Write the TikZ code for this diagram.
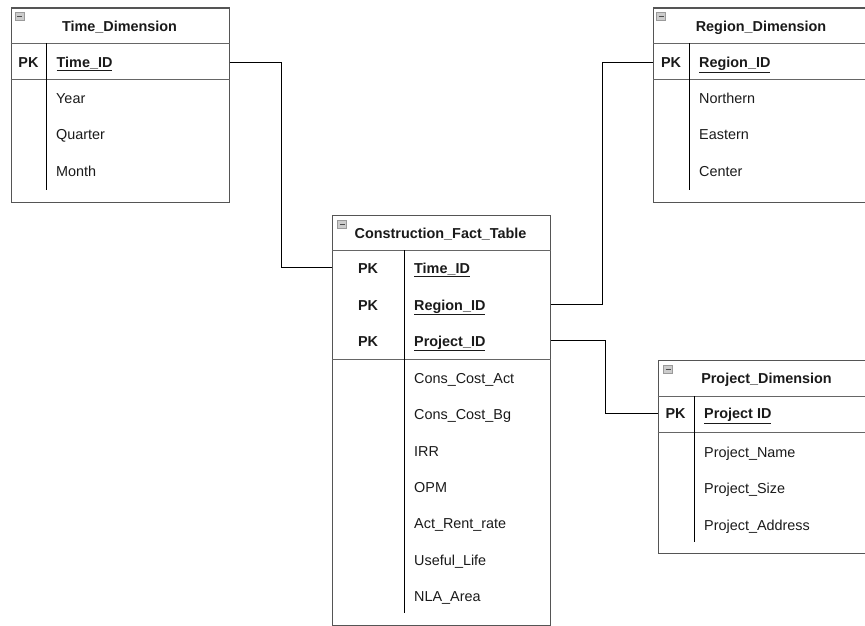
\documentclass[tikz,border=0pt]{standalone}
\usepackage{fontspec}
\setmainfont{Liberation Sans}
\usepackage{xcolor}
\definecolor{frameGrey}{HTML}{555555}
\definecolor{ruleGrey}{HTML}{666666}
\definecolor{iconFill}{HTML}{CCCCCC}
\definecolor{iconDraw}{HTML}{9A9A9A}
\definecolor{textDark}{HTML}{1A1A1A}
\usepackage{tikz}
\usetikzlibrary{calc}
\newcommand{\erFont}{\fontsize{14.4}{17}\selectfont}
\tikzset{%
  tableFrame/.style={%
    rectangle,
    draw=frameGrey,
    line width=1.1pt,
    inner sep=0pt,
    anchor=north west
  },
  textRow/.style={%
    text=textDark,
    font=\erFont,
    inner sep=0pt,
    text height=12pt,
    text depth=1.7pt
  },
  tableTitle/.style={textRow, font=\erFont\bfseries, anchor=base},
  pkLabel/.style={textRow, font=\erFont\bfseries, anchor=base},
  keyField/.style={textRow, font=\erFont\bfseries, anchor=base west},
  fieldName/.style={textRow, anchor=base west},
  headRule/.style={draw=ruleGrey, line width=1pt},
  colRule/.style={draw=black, line width=1pt},
  linkLine/.style={draw=black, line width=0.8pt},
  minusIcon/.style={%
    rectangle,
    draw=iconDraw,
    fill=iconFill,
    line width=0.6pt,
    minimum width=9pt,
    minimum height=8pt,
    inner sep=0pt,
    path picture={\draw[black!70, line width=0.9pt]
      ([xshift=-2.5pt]path picture bounding box.center) --
      ([xshift=2.5pt]path picture bounding box.center);}
  }
}

\begin{document}
\begin{tikzpicture}[x=1pt, y=-1pt]
  \useasboundingbox (0,0) rectangle (865,626);
  \clip (0,0) rectangle (865,626);

  % Time dimension
  \node[tableFrame, minimum width=218pt, minimum height=194pt] (timeTable) at (10.5,7.5) {};
  \node[minusIcon] (timeIcon) at ($(timeTable.north west)+(9,8.5)$) {};
  \draw[headRule] ($(timeTable.north west)+(0,36)$) -- ($(timeTable.north east)+(0,36)$);
  \draw[headRule] ($(timeTable.north west)+(0,72.5)$) -- ($(timeTable.north east)+(0,72.5)$);
  \draw[colRule] ($(timeTable.north west)+(36,36)$) -- ++(0,146.5);
  \node[tableTitle] (timeTitle) at (119.5,31.5) {Time\_Dimension};
  \node[pkLabel] (timePK) at (28.5,67.5) {PK};
  \node[keyField] (timeKey) at (56.5,67.5) {\underline{Time\_ID}};
  \node[fieldName] (timeYear) at (56,103) {Year};
  \node[fieldName] (timeQuarter) at (56,139.5) {Quarter};
  \node[fieldName] (timeMonth) at (56,176) {Month};

  % Region dimension
  \node[tableFrame, minimum width=220pt, minimum height=194pt] (regionTable) at (653,7.5) {};
  \node[minusIcon] (regionIcon) at ($(regionTable.north west)+(8,8.5)$) {};
  \draw[headRule] ($(regionTable.north west)+(0,36)$) -- ($(regionTable.north east)+(0,36)$);
  \draw[headRule] ($(regionTable.north west)+(0,72.5)$) -- ($(regionTable.north east)+(0,72.5)$);
  \draw[colRule] ($(regionTable.north west)+(36.5,36)$) -- ++(0,146.5);
  \node[tableTitle] (regionTitle) at (761,31.5) {Region\_Dimension};
  \node[pkLabel] (regionPK) at (671,67.5) {PK};
  \node[keyField] (regionKey) at (699,67.5) {\underline{Region\_ID}};
  \node[fieldName] (regionNorth) at (699,103) {Northern};
  \node[fieldName] (regionEast) at (699,139.5) {Eastern};
  \node[fieldName] (regionCenter) at (699,176) {Center};

  % Construction fact table
  \node[tableFrame, minimum width=218pt, minimum height=410pt] (factTable) at (332,214.5) {};
  \node[minusIcon] (factIcon) at ($(factTable.north west)+(10,9.5)$) {};
  \draw[headRule] ($(factTable.north west)+(0,35.5)$) -- ($(factTable.north east)+(0,35.5)$);
  \draw[headRule] ($(factTable.north west)+(0,145)$) -- ($(factTable.north east)+(0,145)$);
  \draw[colRule] ($(factTable.north west)+(72,35.5)$) -- ++(0,363);
  \node[tableTitle] (factTitle) at (440.5,238) {Construction\_Fact\_Table};
  \node[pkLabel] (factTimePK) at (368,273) {PK};
  \node[pkLabel] (factRegionPK) at (368,310) {PK};
  \node[pkLabel] (factProjectPK) at (368,346) {PK};
  \node[keyField] (factTimeKey) at (414,273) {\underline{Time\_ID}};
  \node[keyField] (factRegionKey) at (414,310) {\underline{Region\_ID}};
  \node[keyField] (factProjectKey) at (414,346) {\underline{Project\_ID}};
  \node[fieldName] (factCostAct) at (414,383) {Cons\_Cost\_Act};
  \node[fieldName] (factCostBg) at (414,419.5) {Cons\_Cost\_Bg};
  \node[fieldName] (factIRR) at (414,456) {IRR};
  \node[fieldName] (factOPM) at (414,492) {OPM};
  \node[fieldName] (factRent) at (414,528.5) {Act\_Rent\_rate};
  \node[fieldName] (factLife) at (414,565) {Useful\_Life};
  \node[fieldName] (factArea) at (414,601.5) {NLA\_Area};

  % Project dimension
  \node[tableFrame, minimum width=220pt, minimum height=193pt] (projectTable) at (657.5,359.5) {};
  \node[minusIcon] (projectIcon) at ($(projectTable.north west)+(10.5,10)$) {};
  \draw[headRule] ($(projectTable.north west)+(0,36.5)$) -- ($(projectTable.north east)+(0,36.5)$);
  \draw[headRule] ($(projectTable.north west)+(0,72.5)$) -- ($(projectTable.north east)+(0,72.5)$);
  \draw[colRule] ($(projectTable.north west)+(36.5,36.5)$) -- ++(0,145.5);
  \node[tableTitle] (projectTitle) at (766.5,383) {Project\_Dimension};
  \node[pkLabel] (projectPK) at (675.5,418.5) {PK};
  \node[keyField] (projectKey) at (704,418.5) {\underline{Project ID}};
  \node[fieldName] (projectName) at (704,457) {Project\_Name};
  \node[fieldName] (projectSize) at (704,493.5) {Project\_Size};
  \node[fieldName] (projectAddress) at (704,530) {Project\_Address};

  % links
  \draw[linkLine] (timeTable.east |- timeKey) -- ++(51.5,0) |- (factTable.west |- factTimePK);
  \draw[linkLine] (factTable.east |- factRegionPK) -- ++(51,0) |- (regionTable.west |- regionPK);
  \draw[linkLine] (factTable.east |- factProjectPK) -- ++(54,0) |- (projectTable.west |- projectPK);
\end{tikzpicture}
\end{document}
